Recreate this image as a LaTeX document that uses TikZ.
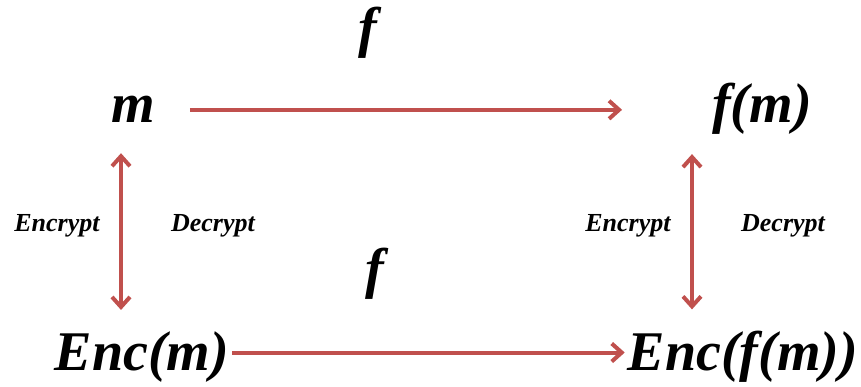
\documentclass[tikz,border=0pt]{standalone}
\usepackage{fontspec}
\setmainfont{Liberation Serif}
\usetikzlibrary{arrows.meta}
\definecolor{arrred}{RGB}{192,80,77}
\begin{document}
\begin{tikzpicture}[x=1pt,y=-1pt,
  big/.style={font=\fontsize{56}{60}\selectfont\bfseries\itshape, inner sep=0pt, anchor=base},
  lab/.style={font=\fontsize{26}{28}\selectfont\bfseries\itshape, inner sep=0pt, anchor=base},
  conn/.style={draw=arrred, line width=4pt, -{Straight Barb[length=10pt,width=18pt]}},
  dconn/.style={draw=arrred, line width=4pt, {Straight Barb[length=10pt,width=18pt]}-{Straight Barb[length=10pt,width=18pt]}}]
\useasboundingbox (0,0) rectangle (861,387);
\node[big] (ftop) at (368,47) {f};
\node[big] (m) at (133,123) {m};
\node[big] (fm) at (762,123) {f(m)};
\node[big] (fmid) at (375,287) {f};
\node[big] (enc) at (142,370) {Enc(m)};
\node[big] (encf) at (743,370) {Enc(f(m))};
\node[lab] (encL) at (57,232) {Encrypt};
\node[lab] (decL) at (213,232) {Decrypt};
\node[lab] (encR) at (628,232) {Encrypt};
\node[lab] (decR) at (783,232) {Decrypt};
% horizontal arrows
\draw[conn, shorten <=35pt, shorten >=90pt] (m.east) -- (m.east -| fm.west);
\draw[conn, shorten <=3pt, shorten >=3pt] ([yshift=4pt]enc.east) -- ([yshift=4pt]enc.east -| encf.west);
% vertical arrows
\draw[dconn] ([xshift=-12pt,yshift=-30pt]m.south) -- ([xshift=-21pt,yshift=21pt]enc.north);
\draw[dconn] ([xshift=-70pt,yshift=-19pt]fm.south) -- ([xshift=-51pt,yshift=21pt]encf.north);
\end{tikzpicture}
\end{document}
